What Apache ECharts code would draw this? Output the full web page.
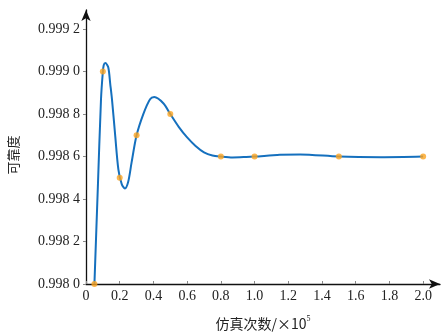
<!DOCTYPE html>
<html>
<head>
<meta charset="utf-8">
<script src="https://cdn.jsdelivr.net/npm/echarts@6/dist/echarts.min.js"></script>
<style>html,body{margin:0;padding:0;background:#fff}#c{width:448px;height:334px}</style>
</head>
<body>
<div id="c"></div>
<script>
// Simulated sample points (x in units of 1e5)
const pointX = [0.05, 0.1, 0.2, 0.3, 0.5, 0.8, 1.0, 1.5, 2.0];
const pointY = [0.9980, 0.9990, 0.9985, 0.9987, 0.9988, 0.9986, 0.9986, 0.9986, 0.9986];
// Fitted curve
const curveX = [0.05, 0.07, 0.089, 0.099, 0.105, 0.115, 0.132, 0.144, 0.154, 0.172, 0.192, 0.212, 0.231, 0.25, 0.27, 0.30, 0.34, 0.38, 0.405, 0.46, 0.50, 0.55, 0.60, 0.65, 0.70, 0.75, 0.80, 0.87, 0.95, 1.0, 1.15, 1.27, 1.5, 1.75, 2.0];
const curveY = [0.99800, 0.99845, 0.99887, 0.99899, 0.99903, 0.99904, 0.99902, 0.99894, 0.99887, 0.99871, 0.99854, 0.99847, 0.99845, 0.99848, 0.99857, 0.99870, 0.99880, 0.99887, 0.99888, 0.99885, 0.99880, 0.99874, 0.99869, 0.99865, 0.99862, 0.998605, 0.99860, 0.998596, 0.998598, 0.99860, 0.998608, 0.99861, 0.99860, 0.998597, 0.99860];
const xTicks = [0, 0.2, 0.4, 0.6, 0.8, 1.0, 1.2, 1.4, 1.6, 1.8, 2.0];
const yTicks = [0.9980, 0.9982, 0.9984, 0.9986, 0.9988, 0.9990, 0.9992];
const xName = '仿真次数/×10';
const yName = '可靠度';

const serif = '"Liberation Serif", "DejaVu Serif", serif';
const cjk = '"Noto Sans CJK SC", sans-serif';
const chart = echarts.init(document.getElementById('c'));
chart.setOption({
  animation: false,
  backgroundColor: '#fff',
  grid: {left: 86, right: 8, top: 10, bottom: 50, containLabel: false, outerBoundsMode: 'none'},
  xAxis: {
    type: 'value', min: 0, max: 2.1,
    name: xName + '{sup|5}', nameLocation: 'middle', nameGap: 31,
    nameTextStyle: {fontFamily: cjk, fontSize: 14, color: '#222',
      rich: {sup: {fontFamily: serif, fontSize: 8, verticalAlign: 'top', padding: [0,0,9,0], color: '#222'}}},
    splitLine: {show: false},
    axisLine: {lineStyle: {color: '#111', width: 1.3}, symbol: ['none', 'arrow'], symbolSize: [7, 11]},
    axisTick: {inside: true, length: 3, lineStyle: {color: '#888'}, customValues: xTicks},
    axisLabel: {customValues: xTicks, margin: 5, fontFamily: serif, fontSize: 14, color: '#222',
      formatter: v => v === 0 ? '0' : v.toFixed(1)}
  },
  yAxis: {
    type: 'value', min: 0.9980, max: 0.99929,
    name: yName, nameLocation: 'middle', nameGap: 66, nameRotate: 90,
    nameTextStyle: {fontFamily: cjk, fontSize: 13, color: '#222', padding: [0, 16, 0, 0]},
    splitLine: {show: false},
    axisLine: {lineStyle: {color: '#111', width: 1.3}, symbol: ['none', 'arrow'], symbolSize: [7, 11]},
    axisTick: {inside: false, length: 3, lineStyle: {color: '#888'}, customValues: yTicks},
    axisLabel: {customValues: yTicks, margin: 6, fontFamily: serif, fontSize: 14, color: '#222',
      formatter: v => { const s = v.toFixed(4); return s.slice(0, 5) + ' ' + s.slice(5); }}
  },
  series: [
    {type: 'line', data: curveX.map((x, i) => [x, curveY[i]]), smooth: 0.3, showSymbol: false,
     lineStyle: {color: '#1570BE', width: 2}, z: 2},
    {type: 'scatter', data: pointX.map((x, i) => [x, pointY[i]]), symbolSize: 6,
     itemStyle: {color: '#FBA421'}, z: 3}
  ]
});
</script>
</body>
</html>
